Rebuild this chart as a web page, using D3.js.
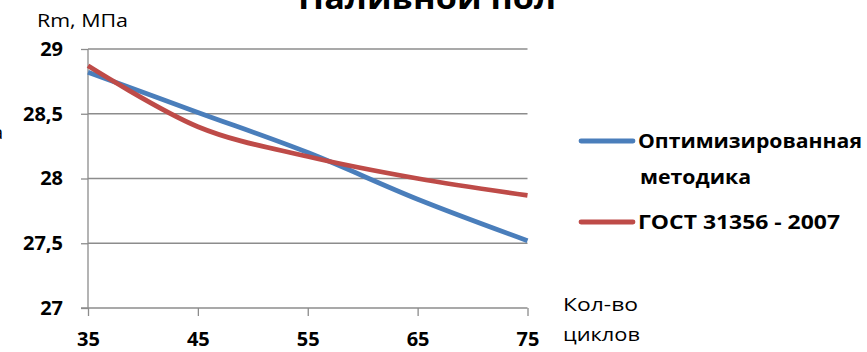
<!DOCTYPE html>
<html>
<head>
<meta charset="utf-8">
<script src="https://d3js.org/d3.v7.min.js"></script>
<style>
  html, body { margin: 0; padding: 0; background: #fff; }
  svg { display: block; font-family: "Open Sans", Lato, "DejaVu Sans", sans-serif; }
</style>
</head>
<body>
<svg id="chart" width="867" height="352"></svg>
<script>
// Cycles (x) and tensile strength Rm, MPa (y) for both methods
const cycles = [35, 45, 55, 65, 75];
const optimizedValues = [28.82, 28.51, 28.20, 27.84, 27.52];
const gostValues = [28.87, 28.40, 28.17, 28.00, 27.87];
const yTicks = [27, 27.5, 28, 28.5, 29];
const xTicks = [35, 45, 55, 65, 75];
const seriesNames = ["Оптимизированная методика", "ГОСТ 31356 - 2007"];
const seriesColors = ["#4A7EBB", "#BE4B48"];

const svg = d3.select("#chart");
const x = d3.scaleLinear().domain([35, 75]).range([88, 527.5]);
const y = d3.scaleLinear().domain([27, 29]).range([308, 49]);

const fmt = d => String(d).replace(".", ",");
const gridColor = "#8c8c8c";

// Text helper: plain label, fitted to a given run length
function label(px, py, str, size, width, opts = {}) {
  const t = svg.append("text")
    .attr("x", px).attr("y", py)
    .attr("font-size", size)
    .attr("font-weight", opts.bold ? "bold" : "normal")
    .attr("text-anchor", opts.anchor || "start")
    .attr("fill", "#000")
    .text(str);
  if (width) t.attr("textLength", width).attr("lengthAdjust", "spacingAndGlyphs");
  return t;
}

// Title (runs off the top edge)
label(427, 9, "Наливной пол", 31, 258, { bold: true, anchor: "middle" });

// Horizontal gridlines
svg.append("g").selectAll("line")
  .data(yTicks.filter(t => t !== 27))
  .join("line")
  .attr("x1", x(35)).attr("x2", x(75))
  .attr("y1", d => y(d)).attr("y2", d => y(d))
  .attr("stroke", gridColor).attr("stroke-width", 1.3);

// Y axis
const yAxis = svg.append("g")
  .attr("transform", `translate(${x(35)},0)`)
  .call(d3.axisLeft(y).tickValues(yTicks).tickSize(7).tickPadding(18).tickFormat(fmt));
// X axis
const xAxis = svg.append("g")
  .attr("transform", `translate(0,${y(27)})`)
  .call(d3.axisBottom(x).tickValues(xTicks).tickSize(8).tickPadding(16));

[yAxis, xAxis].forEach(g => {
  g.select(".domain").attr("stroke", gridColor).attr("stroke-width", 1.3);
  g.selectAll(".tick line").attr("stroke", gridColor).attr("stroke-width", 1.3);
  g.selectAll(".tick text")
    .attr("font-family", "'Open Sans', Lato, sans-serif")
    .attr("font-size", 20).attr("font-weight", "bold").attr("fill", "#000");
});
yAxis.select(".domain").attr("d", `M0,${y(27)}V${y(29)}`);
xAxis.select(".domain").attr("d", `M${x(35) - 7},0H${x(75)}`);

// Series lines (smoothed)
const line = d3.line()
  .x((d, i) => x(cycles[i]))
  .y(d => y(d))
  .curve(d3.curveCatmullRom.alpha(0));

[optimizedValues, gostValues].forEach((vals, i) => {
  svg.append("path")
    .datum(vals)
    .attr("d", line)
    .attr("fill", "none")
    .attr("stroke", seriesColors[i])
    .attr("stroke-width", 4.8)
    .attr("stroke-linejoin", "round");
});

// Axis titles
label(37, 27, "Rm, МПа", 18, 91);
label(3, 139, "а", 19, null, { anchor: "end" });
label(563, 311, "Кол-во", 19, 75);
label(563, 341, "циклов", 19, 77);

// Legend
const legendRows = [
  { lines: ["Оптимизированная", "методика"], widths: [224, 111], y: 141 },
  { lines: ["ГОСТ 31356 - 2007"], widths: [202], y: 222 }
];
legendRows.forEach((row, i) => {
  svg.append("line")
    .attr("x1", 581).attr("x2", 633)
    .attr("y1", row.y).attr("y2", row.y)
    .attr("stroke", seriesColors[i]).attr("stroke-width", 4.8)
    .attr("stroke-linecap", "round");
  row.lines.forEach((t, j) => {
    label(j === 0 ? 638 : 640, row.y + 7 + j * 36, t, 20, row.widths[j], { bold: true });
  });
});
</script>
</body>
</html>
